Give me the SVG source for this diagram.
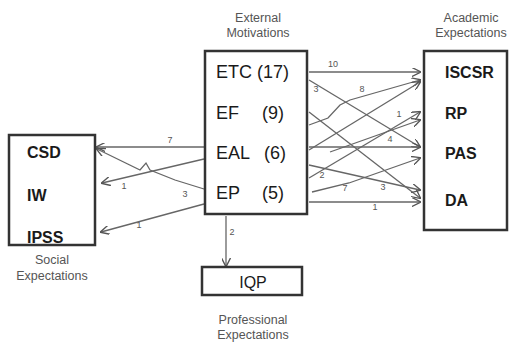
<svg xmlns="http://www.w3.org/2000/svg" width="509" height="343" viewBox="0 0 509 343">
<style>
.box{fill:#fff;stroke:#333;stroke-width:2.5}
.t{font-family:"Liberation Sans",Arial,sans-serif;font-size:18px;fill:#1a1a1a}
.b{font-family:"Liberation Sans",Arial,sans-serif;font-size:16px;font-weight:bold;fill:#1a1a1a}
.cap{font-family:"Liberation Sans",Arial,sans-serif;font-size:12.5px;fill:#555;text-anchor:middle}
.c{fill:none;stroke:#666;stroke-width:1.3}
.n{font-family:"Liberation Sans",Arial,sans-serif;font-size:9px;fill:#555;text-anchor:middle}
</style>
<defs>
<marker id="ah" viewBox="0 0 10 10" refX="9" refY="5" markerWidth="9" markerHeight="9" orient="auto" markerUnits="userSpaceOnUse">
<path d="M0,0 L10,5 L0,10" fill="none" stroke="#555" stroke-width="1.5"/>
</marker>
</defs>
<rect width="509" height="343" fill="#fff"/>
<g id="connectors">
<path class="c" marker-end="url(#ah)" d="M204,147 L97,147"/>
<path class="c" marker-end="url(#ah)" d="M204,189 L175,180 L150,170 L146,163 L140,170 L97,149"/>
<path class="c" marker-end="url(#ah)" d="M204,159 L102,183"/>
<path class="c" marker-end="url(#ah)" d="M204,204 L101,232"/>
<path class="c" marker-end="url(#ah)" d="M226,216 L226,266"/>
<path class="c" marker-end="url(#ah)" d="M309,72 L420,72"/>
<path class="c" marker-end="url(#ah)" d="M309,80 L420,147"/>
<path class="c" marker-end="url(#ah)" d="M309,112 L420,198"/>
<path class="c" marker-end="url(#ah)" d="M309,125 L328,118 L340,105 L350,100 L420,80"/>
<path class="c" marker-end="url(#ah)" d="M309,150 L420,82"/>
<path class="c" marker-end="url(#ah)" d="M309,147 L420,147"/>
<path class="c" marker-end="url(#ah)" d="M330,152 L420,120"/>
<path class="c" marker-end="url(#ah)" d="M309,165 L420,190"/>
<path class="c" marker-end="url(#ah)" d="M309,178 L420,112"/>
<path class="c" marker-end="url(#ah)" d="M312,192 L349,183 L420,158"/>
<path class="c" marker-end="url(#ah)" d="M309,202 L420,202"/>
<text class="n" x="170" y="143">7</text>
<text class="n" x="185" y="197">3</text>
<text class="n" x="124" y="189">1</text>
<text class="n" x="139" y="228">1</text>
<text class="n" x="232" y="235">2</text>
<text class="n" x="333" y="67">10</text>
<text class="n" x="316" y="92">3</text>
<text class="n" x="362" y="92">8</text>
<text class="n" x="390" y="142">4</text>
<text class="n" x="399" y="117">1</text>
<text class="n" x="383" y="190">3</text>
<text class="n" x="322" y="178">2</text>
<text class="n" x="345" y="191">7</text>
<text class="n" x="375" y="210">1</text>
</g>
<g id="external">
<rect class="box" x="205" y="51" width="102" height="163"/>
<text class="cap" x="258" y="22">External</text>
<text class="cap" x="258" y="37">Motivations</text>
<text class="t" x="216" y="78">ETC</text><text class="t" x="257" y="78">(17)</text>
<text class="t" x="216" y="119">EF</text><text class="t" x="262" y="119">(9)</text>
<text class="t" x="216" y="159">EAL</text><text class="t" x="264" y="159">(6)</text>
<text class="t" x="216" y="199">EP</text><text class="t" x="262" y="199">(5)</text>
</g>
<g id="academic">
<rect class="box" x="424" y="51" width="83" height="179"/>
<text class="cap" x="471" y="22">Academic</text>
<text class="cap" x="471" y="37">Expectations</text>
<text class="b" x="445" y="78">ISCSR</text>
<text class="b" x="445" y="119">RP</text>
<text class="b" x="445" y="159">PAS</text>
<text class="b" x="445" y="206">DA</text>
</g>
<g id="social">
<rect class="box" x="9" y="135" width="86" height="110"/>
<text class="b" x="27" y="158">CSD</text>
<text class="b" x="27" y="201">IW</text>
<text class="b" x="27" y="243">IPSS</text>
<text class="cap" x="52" y="264">Social</text>
<text class="cap" x="52" y="280">Expectations</text>
</g>
<g id="professional">
<rect class="box" x="202" y="267" width="100" height="28"/>
<text class="t" x="253" y="288" text-anchor="middle" style="font-size:16px">IQP</text>
<text class="cap" x="253" y="324">Professional</text>
<text class="cap" x="253" y="339">Expectations</text>
</g>
</svg>
